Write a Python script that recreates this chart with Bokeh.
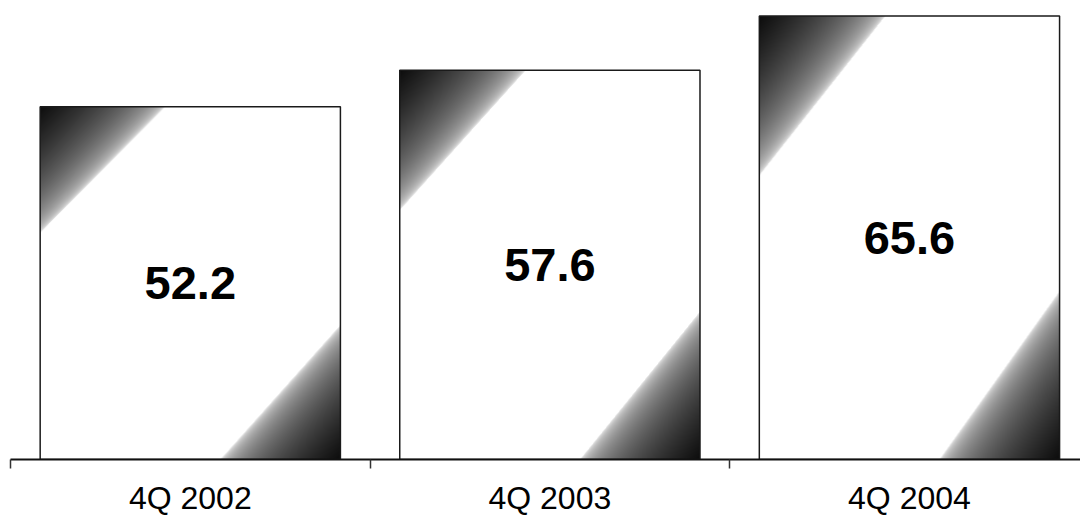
import numpy as np
from bokeh.plotting import figure
from bokeh.models import FixedTicker, Range1d, ColumnDataSource
from bokeh.embed import file_html
from bokeh.resources import INLINE
from bokeh.core.properties import value

# ---- data ----
categories = ["4Q 2002", "4Q 2003", "4Q 2004"]
values = [52.2, 57.6, 65.6]
value_labels = ["52.2", "57.6", "65.6"]

xs = list(range(len(categories)))
BAR_W = 0.835
FONT = "Liberation Sans"

src = ColumnDataSource(dict(x=xs, top=values, half=[v / 2 for v in values], lab=value_labels))

p = figure(width=1080, height=518, output_backend="svg", toolbar_location=None,
           x_range=Range1d(-0.5, 2.4757), y_range=Range1d(0, 67.9),
           y_axis_type=None,
           min_border_left=10, min_border_right=0, min_border_top=0, min_border_bottom=59)
p.outline_line_color = None
p.xgrid.visible = False
p.ygrid.visible = False
p.background_fill_color = "white"
p.border_fill_color = "white"

# white bar bodies
p.vbar(x="x", top="top", width=BAR_W, bottom=0, source=src,
       fill_color="white", line_color=None)

# corner shading (gradient from dark corners) for each bar
for i, v in enumerate(values):
    W, H = 300, int(round(v * 6.76))
    px = np.arange(W)[None, :] + 0.5
    py_bottom = np.arange(H)[:, None] + 0.5  # row 0 = bottom
    py_top = H - py_bottom
    tl = 1 - (px / (0.42 * W) + py_top / (0.36 * H))
    br = 1 - ((W - px) / (0.40 * W) + py_bottom / (0.38 * H))
    d = np.maximum(np.clip(tl, 0, 1), np.clip(br, 0, 1))
    dark = (d ** 0.4) * 0.95
    img = np.zeros((H, W), dtype=np.uint32)
    view = img.view(dtype=np.uint8).reshape((H, W, 4))
    g = (255 * (1 - dark)).astype(np.uint8)
    view[..., 0] = g
    view[..., 1] = g
    view[..., 2] = g
    view[..., 3] = 255
    p.image_rgba(image=[img], x=xs[i] - BAR_W / 2, y=0, dw=BAR_W, dh=v)

# bar outlines
p.vbar(x="x", top="top", width=BAR_W, bottom=0, source=src,
       fill_color=None, line_color="#1a1a1a", line_width=1.5)

# value labels
p.text(x="x", y="half", text="lab", source=src,
       text_align="center", text_baseline="middle",
       text_font=value(FONT), text_font_size="47px", text_font_style="bold",
       text_color="black")

ax = p.xaxis[0]
ax.ticker = FixedTicker(ticks=xs, minor_ticks=[-0.5, 0.5, 1.5, 2.5])
ax.major_label_overrides = {i: c for i, c in zip(xs, categories)}
ax.major_tick_out = 0
ax.major_tick_in = 0
ax.minor_tick_out = 9
ax.minor_tick_in = 0
ax.minor_tick_line_color = "#333333"
ax.minor_tick_line_width = 1.5
ax.axis_line_color = "#111111"
ax.axis_line_width = 2
ax.major_label_text_font = FONT
ax.major_label_text_font_size = "32px"
ax.major_label_text_color = "black"
ax.major_label_standoff = 11

open("out.html", "w").write(file_html(p, INLINE))
